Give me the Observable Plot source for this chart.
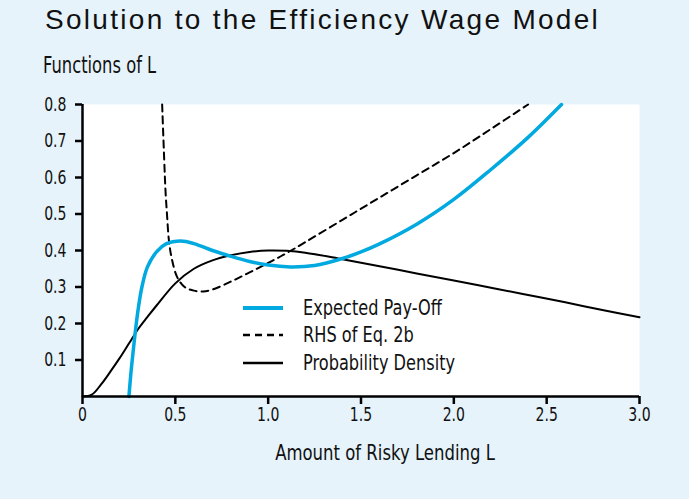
<!DOCTYPE html>
<html>
<head>
<meta charset="utf-8">
<script src="https://cdn.jsdelivr.net/npm/d3@7"></script>
<script src="https://cdn.jsdelivr.net/npm/@observablehq/plot@0.6"></script>
<style>
  html, body { margin: 0; padding: 0; background: #e6f3fb; }
  #wrap { position: relative; width: 689px; height: 499px; background: #e6f3fb; overflow: hidden; }
  #title { position: absolute; left: 45px; top: 4px; font-family: "Liberation Sans", sans-serif; font-size: 28px; letter-spacing: 2.3px; color: #111; white-space: nowrap; }
  .cond { font-family: "DejaVu Sans", sans-serif; }
  #sub { position: absolute; left: 43px; top: 52px; font-size: 23px; color: #111; white-space: nowrap; transform: scaleX(0.71); transform-origin: left center; }
  #chart { position: absolute; left: 0; top: 88px; }
  #legend { position: absolute; left: 243px; top: 294px; font-size: 21px; color: #111; }
  #legend .row { display: flex; align-items: center; height: 27.5px; }
  #legend svg { margin-right: 20px; }
  #legend span { display: inline-block; transform: scaleX(0.77); transform-origin: left center; white-space: nowrap; }
</style>
</head>
<body>
<div id="wrap">
  <div id="title">Solution to the Efficiency Wage Model</div>
  <div id="sub" class="cond">Functions of L</div>
  <div id="chart"></div>
  <div id="legend" class="cond"></div>
</div>
<script>
// Probability density
const densityL = [0, 0.05, 0.1, 0.15, 0.2, 0.25, 0.3, 0.35, 0.4, 0.5, 0.6, 0.7, 0.8, 0.9, 1.0, 1.1, 1.2, 1.4, 1.6, 1.8, 2.0, 2.2, 2.4, 2.6, 2.8, 3.0];
const densityY = [0, 0.005, 0.033, 0.068, 0.105, 0.145, 0.185, 0.218, 0.25, 0.31, 0.35, 0.373, 0.387, 0.396, 0.4, 0.399, 0.394, 0.376, 0.357, 0.337, 0.318, 0.298, 0.278, 0.258, 0.237, 0.217];

// Expected pay-off
const payoffL = [0.25, 0.26, 0.27, 0.285, 0.3, 0.32, 0.35, 0.4, 0.45, 0.53, 0.6, 0.7, 0.8, 0.9, 1.0, 1.12, 1.25, 1.4, 1.5, 1.6, 1.8, 2.0, 2.2, 2.4, 2.58];
const payoffY = [0, 0.06, 0.11, 0.18, 0.24, 0.3, 0.355, 0.397, 0.418, 0.426, 0.419, 0.4, 0.384, 0.37, 0.36, 0.355, 0.359, 0.378, 0.396, 0.418, 0.472, 0.54, 0.622, 0.71, 0.8];

// RHS of Eq. 2b
const rhsL = [0.429, 0.44, 0.447, 0.455, 0.465, 0.48, 0.51, 0.55, 0.6, 0.65, 0.7, 0.8, 0.9, 1.0, 1.1, 1.2, 1.4, 1.6, 1.8, 2.0, 2.2, 2.4];
const rhsY = [0.8, 0.65, 0.564, 0.5, 0.43, 0.38, 0.327, 0.3, 0.29, 0.288, 0.293, 0.315, 0.34, 0.366, 0.393, 0.423, 0.484, 0.545, 0.606, 0.667, 0.733, 0.8];

const xTicks = [0, 0.5, 1, 1.5, 2, 2.5, 3];
const xTickLabels = ["0", "0.5", "1.0", "1.5", "2.0", "2.5", "3.0"];
const yTicks = [0.1, 0.2, 0.3, 0.4, 0.5, 0.6, 0.7, 0.8];
const yTickLabels = ["0.1", "0.2", "0.3", "0.4", "0.5", "0.6", "0.7", "0.8"];
const xTitle = "Amount of Risky Lending L";

const seriesNames = ["Expected Pay-Off", "RHS of Eq. 2b", "Probability Density"];
const seriesColors = ["#00a9e0", "#000000", "#000000"];
const seriesWidths = [3.5, 2, 2];
const seriesDash = [null, "7,5", null];

const zip = (xs, ys) => xs.map((x, i) => ({x, y: ys[i]}));
const density = zip(densityL, densityY);
const payoff = zip(payoffL, payoffY);
const rhs = zip(rhsL, rhsY);

const chart = Plot.plot({
  width: 689,
  height: 411,
  marginLeft: 82,
  marginRight: 50,
  marginTop: 16,
  marginBottom: 103,
  x: {domain: [0, 3]},
  y: {domain: [0, 0.8]},
  style: {background: "transparent", fontFamily: "'DejaVu Sans', sans-serif", fontSize: "19px", color: "#111"},
  marks: [
    Plot.frame({fill: "white", stroke: null}),
    Plot.line(density, {x: "x", y: "y", stroke: seriesColors[2], strokeWidth: seriesWidths[2], curve: "catmull-rom"}),
    Plot.line(rhs, {x: "x", y: "y", stroke: seriesColors[1], strokeWidth: seriesWidths[1], strokeDasharray: seriesDash[1], curve: "catmull-rom"}),
    Plot.line(payoff, {x: "x", y: "y", stroke: seriesColors[0], strokeWidth: seriesWidths[0], curve: "catmull-rom"}),
    Plot.ruleX([0], {stroke: "black", strokeWidth: 2.5}),
    Plot.ruleY([0], {stroke: "black", strokeWidth: 2.5}),
    Plot.axisX({ticks: xTicks, tickFormat: (d) => xTickLabels[xTicks.indexOf(d)], tickSize: 8, strokeWidth: 2.5, tickPadding: 3, stroke: "black", fontSize: 19, label: null}),
    Plot.axisY({ticks: yTicks, tickFormat: (d) => yTickLabels[yTicks.indexOf(d)], tickSize: 7, strokeWidth: 2.5, tickPadding: 9, stroke: "black", fontSize: 19, label: null}),
    Plot.text([xTitle], {text: (d) => d, frameAnchor: "bottom", dx: 24, dy: 63, fontSize: 22, fill: "#111"})
  ]
});

// narrow text horizontally to mimic the condensed face of the original
function condense(sel, s) {
  chart.querySelectorAll(sel).forEach(t => {
    const tr = t.getAttribute("transform") || "";
    let x = parseFloat(t.getAttribute("x"));
    if (!isFinite(x)) x = 0;
    t.setAttribute("transform", `${tr} translate(${x},0) scale(${s},1) translate(${-x},0)`.trim());
  });
}
condense('g[aria-label="x-axis tick label"] text', 0.74);
condense('g[aria-label="y-axis tick label"] text', 0.74);
condense('g[aria-label="text"] text', 0.75);
document.getElementById("chart").appendChild(chart);

const legend = document.getElementById("legend");
seriesNames.forEach((name, i) => {
  const row = document.createElement("div");
  row.className = "row";
  row.innerHTML = `<svg width="40" height="6"><line x1="0" x2="40" y1="3" y2="3" stroke="${seriesColors[i]}" stroke-width="${i === 0 ? 4 : 2.5}" ${seriesDash[i] ? `stroke-dasharray="${seriesDash[i]}"` : ""}/></svg><span>${name}</span>`;
  legend.appendChild(row);
});
</script>
</body>
</html>
